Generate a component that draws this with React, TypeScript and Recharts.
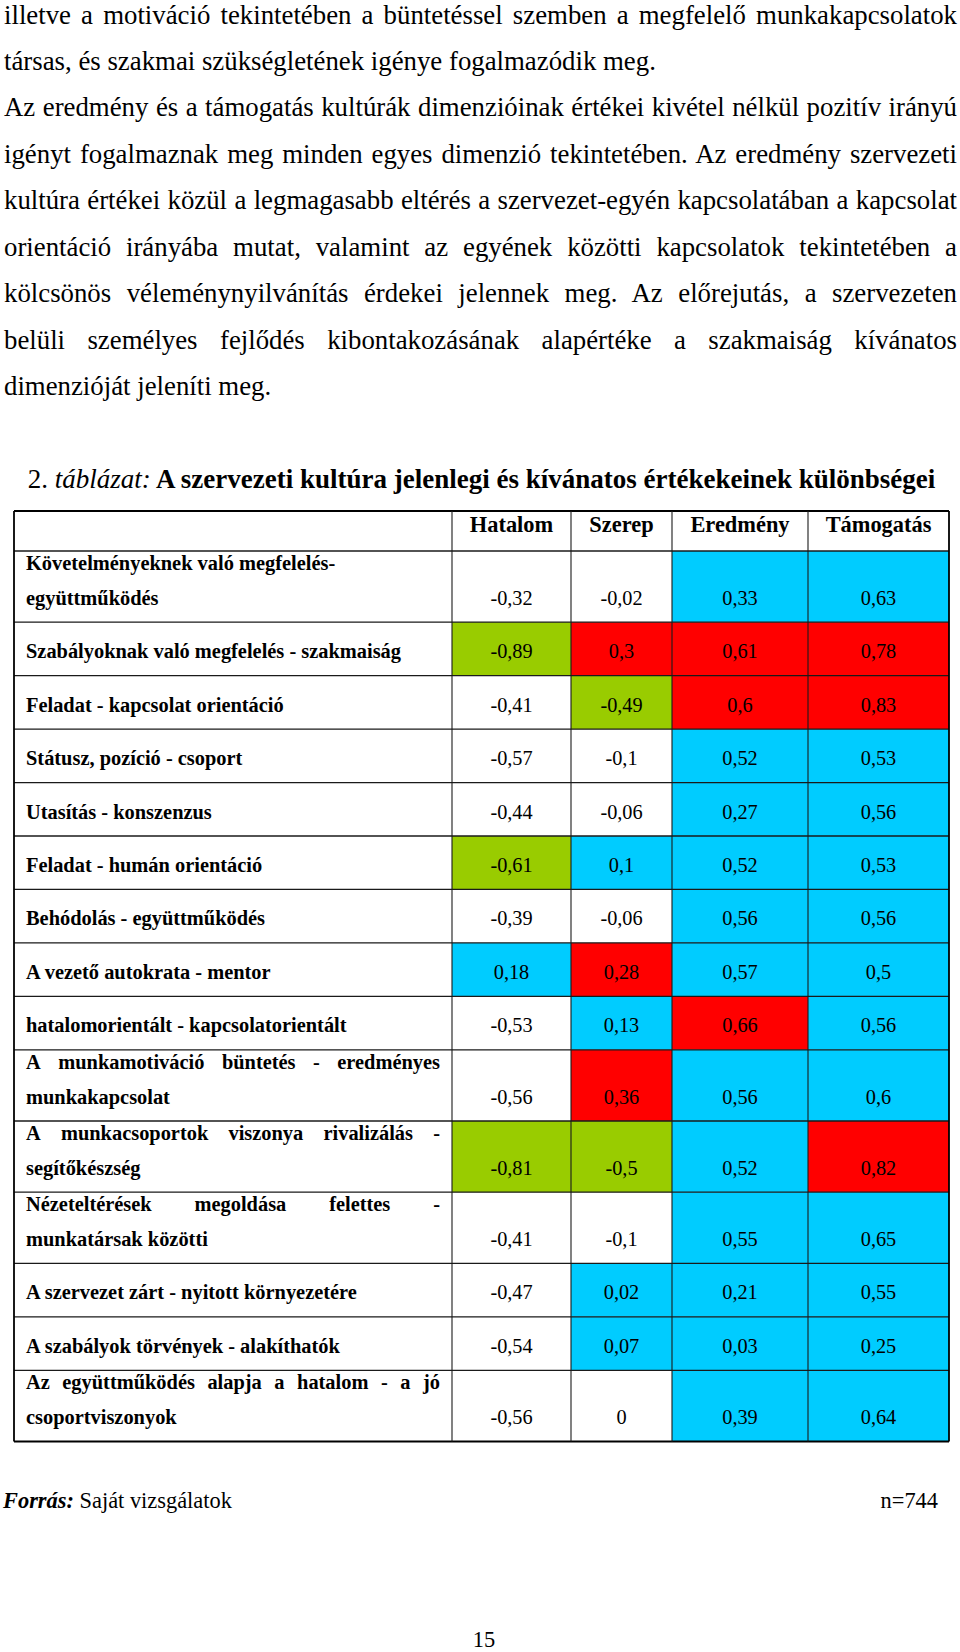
import React from 'react';
import { ComposedChart, XAxis, YAxis, ReferenceArea, ReferenceLine } from 'recharts';

// ---------------- data ----------------
const bodyLines: string[] = [
  'illetve a motiváció tekintetében a büntetéssel szemben a megfelelő munkakapcsolatok',
  'társas, és szakmai szükségletének igénye fogalmazódik meg.',
  'Az eredmény és a támogatás kultúrák dimenzióinak értékei kivétel nélkül pozitív irányú',
  'igényt fogalmaznak meg minden egyes dimenzió tekintetében. Az eredmény szervezeti',
  'kultúra értékei közül a legmagasabb eltérés a szervezet-egyén kapcsolatában a kapcsolat',
  'orientáció irányába mutat, valamint az egyének közötti kapcsolatok tekintetében a',
  'kölcsönös véleménynyilvánítás érdekei jelennek meg. Az előrejutás, a szervezeten',
  'belüli személyes fejlődés kibontakozásának alapértéke a szakmaiság kívánatos',
  'dimenzióját jeleníti meg.',
];
const bodyParagraphEnds: boolean[] = [false, true, false, false, false, false, false, false, true];

const titleNumber = '2.';
const titleKind = 'táblázat:';
const titleText = 'A szervezeti kultúra jelenlegi és kívánatos értékekeinek különbségei';

const columns: string[] = ['Hatalom', 'Szerep', 'Eredmény', 'Támogatás'];

const rowLabels: string[][] = [
  ['Követelményeknek való megfelelés-', 'együttműködés'],
  ['Szabályoknak való megfelelés - szakmaiság'],
  ['Feladat - kapcsolat orientáció'],
  ['Státusz, pozíció - csoport'],
  ['Utasítás - konszenzus'],
  ['Feladat - humán orientáció'],
  ['Behódolás - együttműködés'],
  ['A vezető autokrata - mentor'],
  ['hatalomorientált - kapcsolatorientált'],
  ['A munkamotiváció büntetés - eredményes', 'munkakapcsolat'],
  ['A munkacsoportok viszonya rivalizálás -', 'segítőkészség'],
  ['Nézeteltérések megoldása felettes -', 'munkatársak közötti'],
  ['A szervezet zárt - nyitott környezetére'],
  ['A szabályok törvények - alakíthatók'],
  ['Az együttműködés alapja a hatalom - a jó', 'csoportviszonyok'],
];

const hatalom: number[] = [-0.32, -0.89, -0.41, -0.57, -0.44, -0.61, -0.39, 0.18, -0.53, -0.56, -0.81, -0.41, -0.47, -0.54, -0.56];
const szerep: number[] = [-0.02, 0.3, -0.49, -0.1, -0.06, 0.1, -0.06, 0.28, 0.13, 0.36, -0.5, -0.1, 0.02, 0.07, 0];
const eredmeny: number[] = [0.33, 0.61, 0.6, 0.52, 0.27, 0.52, 0.56, 0.57, 0.66, 0.56, 0.52, 0.55, 0.21, 0.03, 0.39];
const tamogatas: number[] = [0.63, 0.78, 0.83, 0.53, 0.56, 0.53, 0.56, 0.5, 0.56, 0.6, 0.82, 0.65, 0.55, 0.25, 0.64];

// highlight class per cell: r = highest, g = lowest, b = positive, '' = none
const hatalomMark: string[] = ['', 'g', '', '', '', 'g', '', 'b', '', '', 'g', '', '', '', ''];
const szerepMark: string[] = ['', 'r', 'g', '', '', 'b', '', 'r', 'b', 'r', 'g', '', 'b', 'b', ''];
const eredmenyMark: string[] = ['b', 'r', 'r', 'b', 'b', 'b', 'b', 'b', 'r', 'b', 'b', 'b', 'b', 'b', 'b'];
const tamogatasMark: string[] = ['b', 'r', 'r', 'b', 'b', 'b', 'b', 'b', 'b', 'b', 'r', 'b', 'b', 'b', 'b'];

const sourceLabel = 'Forrás:';
const sourceText = 'Saját vizsgálatok';
const sampleSize = 'n=744';
const pageNumber = '15';

// ---------------- layout / style ----------------
const FONT = '"Liberation Serif", "Times New Roman", serif';
const PAGE_W = 960;
const PAGE_H = 1652;
const CHART_TOP = 500;
const CHART_W = 960;
const CHART_H = 960;
const TABLE_TOP = 11;
const COL_EDGES = [14, 452, 571, 672, 808, 949];
const HEADER_H = 40;
const ONE_LINE_H = 53.45;
const TWO_LINE_H = 71.2;
const JUSTIFY_FIRST = new Set([9, 10, 11, 14]);
const LABEL_PAD = 12;
const BASE_FROM_BOTTOM = 17.5;
const LINE_GAP = 35;
const LABEL_FS = 20.4;
const NUM_FS = 20.3;
const HEAD_FS = 22.4;
const BODY_FS = 26.8;
const TITLE_FS = 27;
const FOOT_FS = 22.4;
const FILLS: Record<string, string> = { r: '#FF0000', g: '#99CC00', b: '#00CCFF' };
const INNER_STROKE = '#1a1a1a';

const valueCols = [hatalom, szerep, eredmeny, tamogatas];
const markCols = [hatalomMark, szerepMark, eredmenyMark, tamogatasMark];

const fmt = (v: number) => String(v).replace('.', ',');

let ctx: CanvasRenderingContext2D | null = null;
function measure(text: string, font: string): number {
  if (!ctx && typeof document !== 'undefined') ctx = document.createElement('canvas').getContext('2d');
  if (!ctx) return text.length * 9;
  ctx.font = font;
  return ctx.measureText(text).width;
}

const rowEdges: number[] = [TABLE_TOP, TABLE_TOP + HEADER_H];
rowLabels.forEach((l) => rowEdges.push(rowEdges[rowEdges.length - 1] + (l.length > 1 ? TWO_LINE_H : ONE_LINE_H)));
const TABLE_BOTTOM = rowEdges[rowEdges.length - 1];

const labelShape = (lines: string[], justifyFirst: boolean) => (p: any) => {
  const { x, y, width, height } = p;
  const left = x + LABEL_PAD;
  const right = x + width - LABEL_PAD;
  const baseLast = y + height - BASE_FROM_BOTTOM;
  const font = `bold ${LABEL_FS}px "Liberation Serif"`;
  return (
    <g>
      {lines.map((ln, k) => {
        const by = baseLast - (lines.length - 1 - k) * LINE_GAP;
        if (justifyFirst && k < lines.length - 1) {
          const words = ln.split(' ');
          const ws = words.map((w) => measure(w, font));
          const total = ws.reduce((a, b) => a + b, 0);
          const gap = words.length > 1 ? (right - left - total) / (words.length - 1) : 0;
          let cx = left;
          return (
            <text key={k} y={by} fontFamily={FONT} fontWeight="bold" fontSize={LABEL_FS} fill="#000">
              {words.map((w, j) => {
                const px = cx;
                cx += ws[j] + gap;
                return (
                  <tspan key={j} x={px}>
                    {w}
                  </tspan>
                );
              })}
            </text>
          );
        }
        return (
          <text key={k} x={left} y={by} fontFamily={FONT} fontWeight="bold" fontSize={LABEL_FS} fill="#000">
            {ln}
          </text>
        );
      })}
    </g>
  );
};

const valueShape = (value: number, mark: string) => (p: any) => {
  const { x, y, width, height } = p;
  return (
    <g>
      {mark ? <rect x={x} y={y} width={width} height={height} fill={FILLS[mark]} /> : null}
      <text
        x={x + width / 2}
        y={y + height - BASE_FROM_BOTTOM}
        textAnchor="middle"
        fontFamily={FONT}
        fontSize={NUM_FS}
        fill="#000"
      >
        {fmt(value)}
      </text>
    </g>
  );
};

const headerShape = (name: string) => (p: any) => {
  const { x, y, width } = p;
  return (
    <text x={x + width / 2} y={y + 21} textAnchor="middle" fontFamily={FONT} fontWeight="bold" fontSize={HEAD_FS} fill="#000">
      {name}
    </text>
  );
};

function TableChart() {
  const areas: React.ReactNode[] = [];
  columns.forEach((c, ci) => {
    areas.push(
      <ReferenceArea
        key={`h-${ci}`}
        x1={COL_EDGES[ci + 1]}
        x2={COL_EDGES[ci + 2]}
        y1={rowEdges[0]}
        y2={rowEdges[1]}
        ifOverflow="visible"
        shape={headerShape(c)}
      />
    );
  });
  rowLabels.forEach((lines, ri) => {
    const y1 = rowEdges[ri + 1];
    const y2 = rowEdges[ri + 2];
    areas.push(
      <ReferenceArea
        key={`l-${ri}`}
        x1={COL_EDGES[0]}
        x2={COL_EDGES[1]}
        y1={y1}
        y2={y2}
        ifOverflow="visible"
        shape={labelShape(lines, JUSTIFY_FIRST.has(ri))}
      />
    );
    valueCols.forEach((vals, ci) => {
      areas.push(
        <ReferenceArea
          key={`v-${ri}-${ci}`}
          x1={COL_EDGES[ci + 1]}
          x2={COL_EDGES[ci + 2]}
          y1={y1}
          y2={y2}
          ifOverflow="visible"
          shape={valueShape(vals[ri], markCols[ci][ri])}
        />
      );
    });
  });

  const lines: React.ReactNode[] = [];
  rowEdges.forEach((ry, i) => {
    const outer = i === 0 || i === rowEdges.length - 1;
    lines.push(
      <ReferenceLine
        key={`hl-${i}`}
        segment={[
          { x: COL_EDGES[0], y: ry },
          { x: COL_EDGES[COL_EDGES.length - 1], y: ry },
        ]}
        stroke={outer ? '#000' : INNER_STROKE}
        strokeWidth={outer ? 1.8 : 1.3}
        ifOverflow="visible"
      />
    );
  });
  COL_EDGES.forEach((cx, i) => {
    const outer = i === 0 || i === COL_EDGES.length - 1;
    lines.push(
      <ReferenceLine
        key={`vl-${i}`}
        segment={[
          { x: cx, y: TABLE_TOP },
          { x: cx, y: TABLE_BOTTOM },
        ]}
        stroke={outer ? '#000' : INNER_STROKE}
        strokeWidth={outer ? 1.8 : 1.1}
        ifOverflow="visible"
      />
    );
  });

  return (
    <ComposedChart width={CHART_W} height={CHART_H} margin={{ top: 0, right: 0, bottom: 0, left: 0 }} data={[{ x: 0, y: 0 }]}>
      <XAxis type="number" dataKey="x" domain={[0, CHART_W]} hide allowDataOverflow />
      <YAxis type="number" dataKey="y" domain={[0, CHART_H]} reversed hide allowDataOverflow />
      {areas}
      {lines}
    </ComposedChart>
  );
}

export default function App() {
  return (
    <div style={{ position: 'absolute', left: 0, top: 0, width: PAGE_W, height: PAGE_H, background: '#fff', overflow: 'hidden' }}>
      <div
        style={{
          position: 'absolute',
          left: 4,
          top: -8.5,
          width: 953,
          fontFamily: FONT,
          fontSize: BODY_FS,
          lineHeight: '46.45px',
          color: '#000',
        }}
      >
        {bodyLines.map((ln, i) => (
          <div
            key={i}
            style={{
              textAlign: bodyParagraphEnds[i] ? 'left' : 'justify',
              textAlignLast: bodyParagraphEnds[i] ? 'left' : 'justify',
              height: 46.45,
            }}
          >
            {ln}
          </div>
        ))}
      </div>

      <div style={{ position: 'absolute', left: 0, top: CHART_TOP, width: CHART_W, height: CHART_H }}>
        <TableChart />
      </div>

      <svg width={PAGE_W} height={PAGE_H} style={{ position: 'absolute', left: 0, top: 0, pointerEvents: 'none' }}>
        <text x={481.5} y={488} textAnchor="middle" fontFamily={FONT} fontSize={TITLE_FS} fill="#000" style={{ whiteSpace: 'pre' }}>
          <tspan>{titleNumber + ' '}</tspan>
          <tspan fontStyle="italic">{titleKind}</tspan>
          <tspan fontWeight="bold">{' ' + titleText}</tspan>
        </text>
        <text x={3} y={1508} fontFamily={FONT} fontSize={FOOT_FS} fill="#000" style={{ whiteSpace: 'pre' }}>
          <tspan fontWeight="bold" fontStyle="italic">
            {sourceLabel}
          </tspan>
          <tspan>{' ' + sourceText}</tspan>
        </text>
        <text x={938} y={1508} textAnchor="end" fontFamily={FONT} fontSize={FOOT_FS} fill="#000">
          {sampleSize}
        </text>
        <text x={484} y={1647} textAnchor="middle" fontFamily={FONT} fontSize={FOOT_FS} fill="#000">
          {pageNumber}
        </text>
      </svg>
    </div>
  );
}
